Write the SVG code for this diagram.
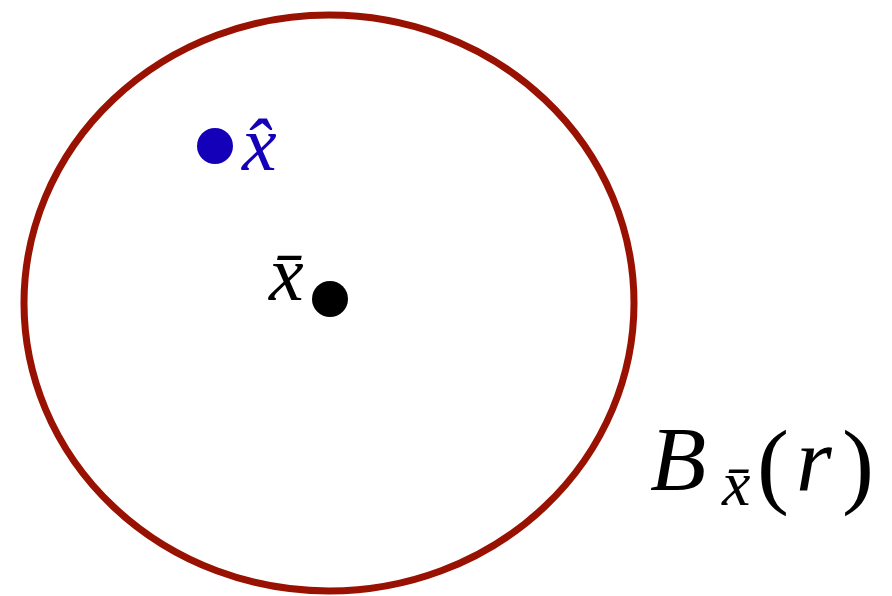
<svg xmlns="http://www.w3.org/2000/svg" width="892" height="596" viewBox="0 0 892 596">
<style>
.m{font-family:"Liberation Serif","DejaVu Serif",serif;font-style:italic}
.r{font-family:"Liberation Serif","DejaVu Serif",serif}
</style>
<rect width="892" height="596" fill="#fff"/>
<g id="ball">
<ellipse cx="329" cy="303" rx="305" ry="288" fill="none" stroke="#991100" stroke-width="7"/>
<text class="m" x="650" y="490" font-size="92">B</text>
<text class="m" x="722" y="505" font-size="64">x̄</text>
<text class="r" x="757" y="496" font-size="96">(</text>
<text class="m" x="796" y="490" font-size="92">r</text>
<text class="r" x="842" y="496" font-size="96">)</text>
</g>
<g id="xhat">
<circle cx="215" cy="146" r="18" fill="#1400b8"/>
<text class="m" x="242" y="170" font-size="78" fill="#1400b8">x̂</text>
</g>
<g id="xbar">
<circle cx="330" cy="299" r="18" fill="#000"/>
<text class="m" x="269" y="300" font-size="78">x̄</text>
</g>
<g id="connectors"/>
</svg>
